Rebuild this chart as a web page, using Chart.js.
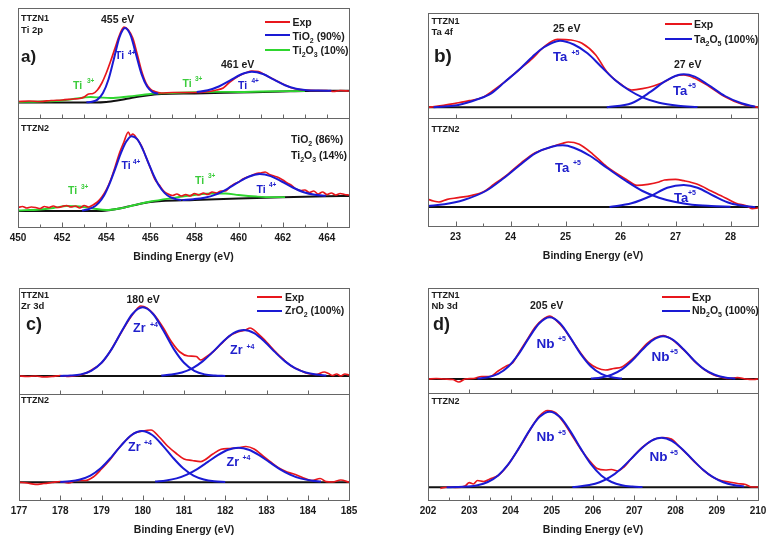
<!DOCTYPE html>
<html>
<head>
<meta charset="utf-8">
<script src="https://cdn.jsdelivr.net/npm/chart.js@4.4.1/dist/chart.umd.min.js"></script>
<style>
  body { margin: 0; background: #fff; }
  #wrap { position: relative; width: 773px; height: 543px; overflow: hidden; font-family: "Liberation Sans", Arial, sans-serif; }
  canvas { position: absolute; }
  .t { position: absolute; line-height: 1; white-space: nowrap; font-weight: bold; color: #1b1b1b; }
  .k { color: #2020cc; }
  .g { color: #3ccc3c; }
  .sb { font-size: 7px; position: relative; top: 3px; }
  .ln { position: absolute; height: 2px; }
</style>
</head>
<body>
<div id="wrap">
  <canvas id="panelA" style="left:0;top:0" width="386" height="270"></canvas>
  <canvas id="panelB" style="left:386px;top:0" width="387" height="270"></canvas>
  <canvas id="panelC" style="left:0;top:280px" width="386" height="263"></canvas>
  <canvas id="panelD" style="left:386px;top:280px" width="387" height="263"></canvas>

  <!-- a) Ti 2p -->
  <div class="t" style="left:21px;top:14px;font-size:9px">TTZN1</div>
  <div class="t" style="left:21px;top:25px;font-size:9.5px">Ti 2p</div>
  <div class="t" style="left:21px;top:48px;font-size:17px">a)</div>
  <div class="t" style="left:101px;top:13.5px;font-size:10.5px">455 eV</div>
  <div class="t" style="left:221px;top:58.5px;font-size:10.5px">461 eV</div>
  <div class="t k" style="left:115px;top:50px;font-size:10.5px">Ti</div>
  <div class="t k" style="left:128px;top:49.5px;font-size:6.5px">4+</div>
  <div class="t k" style="left:238px;top:80px;font-size:10.5px">Ti</div>
  <div class="t k" style="left:251.5px;top:77.5px;font-size:6.5px">4+</div>
  <div class="t g" style="left:73px;top:80px;font-size:10.5px">Ti</div>
  <div class="t g" style="left:87px;top:78px;font-size:6.5px">3+</div>
  <div class="t g" style="left:182.5px;top:78px;font-size:10.5px">Ti</div>
  <div class="t g" style="left:195px;top:76px;font-size:6.5px">3+</div>
  <div class="ln" style="left:265px;top:21px;width:25px;background:#e8161c"></div>
  <div class="ln" style="left:265px;top:34px;width:25px;background:#1a1ad4"></div>
  <div class="ln" style="left:265px;top:49px;width:25px;background:#2fd62f"></div>
  <div class="t" style="left:292.5px;top:17px;font-size:10.5px">Exp</div>
  <div class="t" style="left:292.5px;top:30.5px;font-size:10.5px">TiO<span class="sb">2</span> (90%)</div>
  <div class="t" style="left:292.5px;top:44.5px;font-size:10.5px">Ti<span class="sb">2</span>O<span class="sb">3</span> (10%)</div>
  <div class="t" style="left:21px;top:124px;font-size:9px">TTZN2</div>
  <div class="t" style="left:291px;top:133.5px;font-size:10.5px">TiO<span class="sb">2</span> (86%)</div>
  <div class="t" style="left:291px;top:150px;font-size:10.5px">Ti<span class="sb">2</span>O<span class="sb">3</span> (14%)</div>
  <div class="t k" style="left:121.5px;top:160px;font-size:10.5px">Ti</div>
  <div class="t k" style="left:133px;top:158.5px;font-size:6.5px">4+</div>
  <div class="t g" style="left:68px;top:185px;font-size:10.5px">Ti</div>
  <div class="t g" style="left:81px;top:184px;font-size:6.5px">3+</div>
  <div class="t g" style="left:195px;top:175px;font-size:10.5px">Ti</div>
  <div class="t g" style="left:208px;top:173px;font-size:6.5px">3+</div>
  <div class="t k" style="left:256.5px;top:183.5px;font-size:10.5px">Ti</div>
  <div class="t k" style="left:269px;top:182px;font-size:6.5px">4+</div>

  <!-- b) Ta 4f -->
  <div class="t" style="left:431.5px;top:17px;font-size:9px">TTZN1</div>
  <div class="t" style="left:431.5px;top:27px;font-size:9.5px">Ta 4f</div>
  <div class="t" style="left:434px;top:46px;font-size:19px">b)</div>
  <div class="t" style="left:553px;top:22.5px;font-size:10.5px">25 eV</div>
  <div class="t" style="left:674px;top:58.5px;font-size:10.5px">27 eV</div>
  <div class="t k" style="left:553px;top:50px;font-size:13px">Ta</div>
  <div class="t k" style="left:571.5px;top:49px;font-size:7px">+5</div>
  <div class="t k" style="left:673px;top:83.5px;font-size:13px">Ta</div>
  <div class="t k" style="left:688px;top:82px;font-size:7px">+5</div>
  <div class="ln" style="left:665px;top:22.5px;width:27px;background:#e8161c"></div>
  <div class="ln" style="left:665px;top:37.5px;width:27px;background:#1a1ad4"></div>
  <div class="t" style="left:694px;top:18.5px;font-size:10.5px">Exp</div>
  <div class="t" style="left:694px;top:33.5px;font-size:10.5px">Ta<span class="sb">2</span>O<span class="sb">5</span> (100%)</div>
  <div class="t" style="left:431.5px;top:125px;font-size:9px">TTZN2</div>
  <div class="t k" style="left:555px;top:161px;font-size:13px">Ta</div>
  <div class="t k" style="left:573px;top:158.5px;font-size:7px">+5</div>
  <div class="t k" style="left:674px;top:191px;font-size:13px">Ta</div>
  <div class="t k" style="left:688px;top:189px;font-size:7px">+5</div>

  <!-- c) Zr 3d -->
  <div class="t" style="left:21px;top:290.5px;font-size:9px">TTZN1</div>
  <div class="t" style="left:21px;top:300.5px;font-size:9.5px">Zr 3d</div>
  <div class="t" style="left:26px;top:314.5px;font-size:18px">c)</div>
  <div class="t" style="left:126.5px;top:293.5px;font-size:10.5px">180 eV</div>
  <div class="t k" style="left:133px;top:321.5px;font-size:12.5px">Zr</div>
  <div class="t k" style="left:150px;top:320.5px;font-size:7px">+4</div>
  <div class="t k" style="left:230px;top:343.5px;font-size:12.5px">Zr</div>
  <div class="t k" style="left:246.5px;top:342.5px;font-size:7px">+4</div>
  <div class="ln" style="left:257px;top:296px;width:25px;background:#e8161c"></div>
  <div class="ln" style="left:257px;top:310px;width:25px;background:#1a1ad4"></div>
  <div class="t" style="left:285px;top:291.5px;font-size:10.5px">Exp</div>
  <div class="t" style="left:285px;top:304.5px;font-size:10.5px">ZrO<span class="sb">2</span> (100%)</div>
  <div class="t" style="left:21px;top:395.5px;font-size:9px">TTZN2</div>
  <div class="t k" style="left:128px;top:441px;font-size:12.5px">Zr</div>
  <div class="t k" style="left:144px;top:439px;font-size:7px">+4</div>
  <div class="t k" style="left:226.5px;top:455.5px;font-size:12.5px">Zr</div>
  <div class="t k" style="left:242.5px;top:454px;font-size:7px">+4</div>

  <!-- d) Nb 3d -->
  <div class="t" style="left:431.5px;top:290.5px;font-size:9px">TTZN1</div>
  <div class="t" style="left:431.5px;top:300.5px;font-size:9.5px">Nb 3d</div>
  <div class="t" style="left:433px;top:314.5px;font-size:18px">d)</div>
  <div class="t" style="left:530px;top:299.5px;font-size:10.5px">205 eV</div>
  <div class="t k" style="left:536.5px;top:336.5px;font-size:13.5px">Nb</div>
  <div class="t k" style="left:558px;top:335px;font-size:7px">+5</div>
  <div class="t k" style="left:651.5px;top:350px;font-size:13.5px">Nb</div>
  <div class="t k" style="left:670px;top:347.5px;font-size:7px">+5</div>
  <div class="ln" style="left:662px;top:295.5px;width:28px;background:#e8161c"></div>
  <div class="ln" style="left:662px;top:310px;width:28px;background:#1a1ad4"></div>
  <div class="t" style="left:692px;top:291.5px;font-size:10.5px">Exp</div>
  <div class="t" style="left:692px;top:304.5px;font-size:10.5px">Nb<span class="sb">2</span>O<span class="sb">5</span> (100%)</div>
  <div class="t" style="left:431.5px;top:397px;font-size:9px">TTZN2</div>
  <div class="t k" style="left:536.5px;top:430px;font-size:13.5px">Nb</div>
  <div class="t k" style="left:558px;top:429px;font-size:7px">+5</div>
  <div class="t k" style="left:649.5px;top:450px;font-size:13.5px">Nb</div>
  <div class="t k" style="left:670px;top:449px;font-size:7px">+5</div>
</div>

<script>
// ---- Ti 2p (panel a) ----
const tiMajor = [450, 452, 454, 456, 458, 460, 462, 464];
const tiMinor = [451, 453, 455, 457, 459, 461, 463];

const tiTopExpE = [450, 450.5, 451, 451.5, 452, 452.5, 452.8, 453.0, 453.2, 453.4, 453.6, 453.8, 454.0, 454.2, 454.4, 454.6, 454.8, 455.0, 455.2, 455.4, 455.6, 455.8, 456.0, 456.2, 456.5, 457, 457.5, 458, 458.5, 459, 459.3, 459.6, 460, 460.3, 460.6, 460.9, 461.2, 461.6, 462, 462.5, 463, 463.5, 464, 464.3, 464.6, 465];
const tiTopExpI = [16.5, 17, 16.5, 17.5, 18, 19, 19.5, 21, 24, 24.5, 28, 35, 45, 57, 70, 83, 91, 88, 80, 64, 47, 35, 29, 26.5, 25, 25.5, 25.5, 25.5, 26, 28, 30, 36, 42, 45, 47, 46.5, 43, 38.5, 34, 29.5, 28, 27.5, 27.5, 26.5, 27.5, 27];
const tiTopFit1E = [453.1, 453.35, 453.6, 453.85, 454.1, 454.35, 454.6, 454.85, 455.1, 455.35, 455.6, 455.85, 456.1, 456.35];
const tiTopFit1I = [15.7, 16.3, 18.4, 24.9, 38.5, 59.5, 80.8, 90, 82.8, 63.4, 43.8, 31.4, 25.9, 24.3];
const tiTopFit2E = [458.1, 458.6, 459.1, 459.6, 460.1, 460.6, 461.1, 461.6, 462.1, 462.6, 463.1, 463.6, 464.2];
const tiTopFit2I = [25.9, 27.7, 31.5, 37.4, 43.5, 46.2, 44, 38.3, 32.8, 29.3, 27.8, 27.4, 27.3];
const tiTopTi3E = [450, 451, 452, 452.5, 453, 453.3, 453.7, 454.2, 455, 456, 457, 458, 459, 460, 461, 462, 463];
const tiTopTi3I = [16, 16.5, 17.5, 19, 20.5, 21, 20.5, 20, 21.5, 24, 25, 25.8, 26.2, 26, 26.5, 26.8, 27];
const tiTopBgE = [450, 453.5, 454, 454.5, 455, 455.5, 456, 456.5, 458, 460, 462, 463, 465];
const tiTopBgI = [15.5, 15.5, 16, 17.5, 19.5, 21.5, 23, 24, 24.5, 25.5, 26.5, 27, 27.2];

const tiBotExpE = [450.0, 450.2, 450.4, 450.6, 450.8, 451.0, 451.2, 451.4, 451.6, 451.8, 452.0, 452.2, 452.4, 452.6, 452.8, 453.0, 453.2, 453.4, 453.6, 453.8, 454.0, 454.2, 454.4, 454.6, 454.8, 455.0, 455.1, 455.2, 455.4, 455.6, 455.8, 456.0, 456.2, 456.4, 456.6, 456.8, 457.0, 457.2, 457.4, 457.6, 457.8, 458.0, 458.2, 458.4, 458.6, 458.8, 459.0, 459.2, 459.4, 459.6, 459.8, 460.0, 460.2, 460.4, 460.6, 460.8, 461.0, 461.2, 461.4, 461.6, 461.8, 462.0, 462.2, 462.4, 462.6, 462.8, 463.0, 463.2, 463.4, 463.6, 463.8, 464.0, 464.2, 464.4, 464.6, 464.8, 465.0];
const tiBotExpI = [19.5, 20.5, 19, 20, 19.5, 18.5, 20.5, 19.5, 21, 19.5, 20.5, 21.5, 20, 21, 19, 21.5, 20, 22, 25, 30, 37, 47, 60, 74, 85, 95, 91, 93, 88, 81, 70, 59, 48, 42, 36, 33, 31.5, 33, 31, 32.5, 31, 33.5, 32, 34, 32.5, 35, 34, 36, 36, 40, 43, 45, 48, 50, 51.5, 53.5, 54, 55, 52.5, 51, 49.5, 47, 44, 41.5, 38, 36.5, 37, 34.5, 36, 33, 35, 32.5, 34, 32, 33.5, 32.5, 32];
const tiBotFit1E = [452.9, 453.15, 453.4, 453.65, 453.9, 454.15, 454.4, 454.65, 454.9, 455.15, 455.4, 455.65, 455.9, 456.15, 456.4, 456.65, 456.9, 457.15, 457.4];
const tiBotFit1I = [16.5, 17.5, 19.6, 23.9, 31.4, 43.3, 57.9, 73.1, 85.2, 90.8, 87.8, 77.9, 64.7, 51.7, 41, 33.9, 29.8, 27.9, 27];
const tiBotFit2E = [457.45, 457.95, 458.45, 458.95, 459.45, 459.95, 460.45, 460.95, 461.45, 461.95, 462.45, 462.95, 463.45, 463.95];
const tiBotFit2I = [27, 27.8, 29.3, 32.4, 37.7, 44.3, 50.3, 52.9, 50.9, 45.5, 39.5, 34.8, 32.3, 31.3];
const tiBotTi3E = [450, 451, 451.6, 452.2, 452.8, 453.4, 454, 454.6, 455.2, 456, 457, 458, 458.8, 459.4, 460, 460.8, 461.5, 462.1];
const tiBotTi3I = [16.5, 17.5, 19, 21, 20.5, 18.5, 17, 18.5, 21.5, 25.5, 29, 32, 33.5, 33.5, 32, 30.5, 29.8, 29.8];
const tiBotBgE = [450, 453.8, 454.2, 454.6, 455, 455.5, 456, 456.5, 458, 460, 462, 464, 465];
const tiBotBgI = [16, 16, 17, 18.5, 20.5, 23, 25, 26, 27, 28.5, 29.8, 30.7, 31];

// ---- Ta 4f (panel b) ----
const taMajor = [23, 24, 25, 26, 27, 28];
const taMinor = [22.5, 23.5, 24.5, 25.5, 26.5, 27.5];

const taTopExpE = [22.5, 22.75, 23.0, 23.25, 23.5, 23.7, 23.9, 24.15, 24.4, 24.6, 24.85, 25.1, 25.3, 25.55, 25.75, 26.0, 26.2, 26.4, 26.6, 26.8, 27.0, 27.15, 27.35, 27.6, 27.9, 28.2, 28.5];
const taTopExpI = [10.7, 12.3, 14.7, 17.3, 20.7, 28, 36.3, 48, 59.7, 70.7, 78.7, 78, 74.7, 63, 46.3, 34, 28, 29.3, 32, 36.3, 42, 43, 39.7, 32, 21.3, 14, 10.7];
const taTopFit1E = [22.6, 23.05, 23.4, 23.65, 23.9, 24.15, 24.4, 24.6, 24.9, 25.15, 25.4, 25.65, 25.9, 26.15, 26.4, 26.7, 27.05, 27.4];
const taTopFit1I = [10.8, 13, 18.7, 24.7, 36.3, 48, 61.3, 70.5, 77.3, 73.5, 64.7, 51.3, 38, 28, 20.7, 15.3, 12.3, 11];
const taTopFit2E = [25.75, 26.2, 26.55, 26.8, 27.05, 27.15, 27.35, 27.6, 27.9, 28.2, 28.45];
const taTopFit2I = [10.7, 14.7, 26.3, 36.3, 43, 43.7, 41.3, 33, 22, 14.7, 11.3];
const taTopBgE = [22.5, 28.5];
const taTopBgI = [10.7, 10.7];

const taBotExpE = [22.5, 22.6, 22.7, 22.85, 23.05, 23.3, 23.5, 23.7, 23.95, 24.2, 24.45, 24.7, 24.95, 25.05, 25.25, 25.5, 25.75, 26.1, 26.3, 26.5, 26.7, 26.8, 27.0, 27.15, 27.4, 27.65, 27.9, 28.1, 28.3, 28.4, 28.5];
const taBotExpI = [26.7, 25, 24, 26.7, 28.3, 30.7, 34, 41.7, 51.7, 63.3, 73.3, 78.3, 82.7, 84, 81.7, 71.7, 59.3, 46.7, 40.7, 41.7, 44, 46, 46.7, 45.3, 41.7, 35, 28.3, 22.7, 20, 17.3, 18];
const taBotFit1E = [22.5, 22.8, 23.15, 23.55, 23.85, 24.15, 24.45, 24.75, 24.95, 25.15, 25.45, 25.75, 26.1, 26.4, 26.7, 27.0, 27.3, 27.65, 28.0];
const taBotFit1I = [20, 21.7, 26, 35, 46.7, 60, 72.7, 79.3, 80.7, 78.3, 70, 58.3, 45, 35, 28.3, 24, 21.3, 20, 19.3];
const taBotFit2E = [25.8, 26.2, 26.55, 26.85, 27.15, 27.4, 27.7, 28.0, 28.25, 28.45];
const taBotFit2I = [19, 22.7, 30, 38.3, 41, 38.3, 30, 22.7, 20, 19];
const taBotBgE = [22.5, 28.5];
const taBotBgI = [19, 19];

// ---- Zr 3d (panel c) ----
const zrMajor = [177, 178, 179, 180, 181, 182, 183, 184, 185];
const zrMinor = [177.5, 178.5, 179.5, 180.5, 181.5, 182.5, 183.5, 184.5];

const zrTopExpE = [177, 177.2, 177.4, 177.6, 177.8, 178, 178.2, 178.4, 178.6, 178.8, 179, 179.2, 179.4, 179.6, 179.8, 179.95, 180.1, 180.3, 180.5, 180.7, 180.9, 181.1, 181.3, 181.4, 181.5, 181.7, 181.9, 182.1, 182.3, 182.5, 182.6, 182.8, 183, 183.2, 183.4, 183.6, 183.8, 184, 184.2, 184.4, 184.5, 184.6, 184.7, 184.8, 184.9, 185];
const zrTopExpI = [18, 17.5, 18, 17, 17.5, 18.5, 17.5, 18.5, 20.5, 25, 31, 42, 56, 70, 82, 88, 86, 78, 66, 52, 42, 38, 37.5, 34, 36, 42, 50, 58, 62, 64, 66, 60, 52, 43, 35, 28, 24, 20.5, 19.5, 22, 20.5, 18.5, 20, 18, 20, 19];
const zrTopFit1E = [178.0, 178.25, 178.5, 178.75, 179.0, 179.25, 179.5, 179.75, 180.0, 180.25, 180.5, 180.75, 181.0, 181.25, 181.5, 181.75, 182.0];
const zrTopFit1I = [18.1, 18.4, 19.6, 23.2, 31.2, 45.1, 63.5, 80, 86.7, 80, 63.5, 45.1, 31.2, 23.2, 19.6, 18.4, 18.1];
const zrTopFit2E = [180.45, 180.7, 180.95, 181.2, 181.45, 181.7, 181.95, 182.2, 182.45, 182.7, 182.95, 183.2, 183.45, 183.7, 183.95, 184.2, 184.45];
const zrTopFit2I = [18.5, 19.4, 21.5, 25.6, 32.6, 42.1, 52.5, 60.8, 64, 60.8, 52.5, 42.1, 32.6, 25.6, 21.5, 19.4, 18.5];
const zrTopBgE = [177, 185];
const zrTopBgI = [18, 18];

const zrBotExpE = [177, 177.2, 177.4, 177.6, 177.8, 178, 178.2, 178.4, 178.6, 178.8, 179, 179.2, 179.4, 179.6, 179.8, 180, 180.2, 180.4, 180.6, 180.8, 181, 181.2, 181.4, 181.5, 181.7, 181.9, 182.1, 182.3, 182.5, 182.7, 182.9, 183.1, 183.3, 183.5, 183.7, 183.9, 184.1, 184.3, 184.45, 184.6, 184.8, 185];
const zrBotExpI = [17.7, 17, 15.7, 16.5, 17.5, 18.5, 17, 19.5, 19.5, 23, 31, 40, 51, 60, 67, 69, 70, 63, 54, 47, 41, 39.5, 38.3, 40, 46, 50.7, 51.5, 52, 53.5, 51, 44.5, 38, 32, 28, 25.5, 22, 19.5, 21.5, 18.3, 18, 20, 17.7];
const zrBotFit1E = [178.0, 178.23, 178.48, 178.73, 178.98, 179.23, 179.48, 179.73, 179.98, 180.23, 180.48, 180.73, 180.98, 181.23, 181.48, 181.73, 182.0];
const zrBotFit1I = [18, 18.7, 20.5, 24.4, 31.7, 42.4, 54.7, 65, 69, 65, 54.7, 42.4, 31.7, 24.4, 20.5, 18.7, 18];
const zrBotFit2E = [180.3, 180.57, 180.82, 181.07, 181.32, 181.57, 181.82, 182.07, 182.32, 182.57, 182.82, 183.07, 183.32, 183.57, 183.82, 184.07, 184.32];
const zrBotFit2I = [18.4, 19.5, 21.6, 25.4, 30.9, 37.8, 44.9, 50.3, 52.3, 50.3, 44.9, 37.8, 30.9, 25.4, 21.6, 19.5, 18.4];
const zrBotBgE = [177, 185];
const zrBotBgI = [17.7, 17.7];

// ---- Nb 3d (panel d) ----
const nbMajor = [202, 203, 204, 205, 206, 207, 208, 209, 210];
const nbMinor = [202.5, 203.5, 204.5, 205.5, 206.5, 207.5, 208.5, 209.5];

const nbTopExpE = [202, 202.2, 202.4, 202.6, 202.75, 202.9, 203.1, 203.3, 203.5, 203.7, 203.9, 204.05, 204.2, 204.4, 204.6, 204.8, 204.95, 205.1, 205.3, 205.5, 205.7, 205.9, 206.1, 206.3, 206.5, 206.7, 206.9, 207.1, 207.3, 207.5, 207.7, 207.9, 208.1, 208.3, 208.5, 208.7, 208.9, 209.1, 209.3, 209.5, 209.7, 209.9, 210];
const nbTopExpI = [14, 14.5, 14, 13.5, 11, 14, 14.5, 16.5, 16.5, 22, 27, 30, 40, 53, 66, 74, 77, 73, 64, 52, 40, 30, 25, 23, 24.5, 26, 32, 40, 49, 55, 57.5, 54, 47, 39, 30, 23.5, 18.5, 16, 14.5, 15.5, 14, 13.5, 14];
const nbTopFit1E = [203.2, 203.45, 203.7, 203.95, 204.2, 204.45, 204.7, 204.95, 205.2, 205.45, 205.7, 205.95, 206.2, 206.45, 206.7];
const nbTopFit1I = [14.5, 15.7, 19.1, 26.5, 39.1, 55.4, 69.8, 75.7, 69.8, 55.4, 39.1, 26.5, 19.1, 15.7, 14.5];
const nbTopFit2E = [205.95, 206.2, 206.45, 206.7, 206.95, 207.2, 207.45, 207.7, 207.95, 208.2, 208.45, 208.7, 208.95, 209.2, 209.45];
const nbTopFit2I = [14.4, 15.5, 18.2, 23.6, 32.5, 43.5, 52.9, 56.7, 52.9, 43.5, 32.5, 23.6, 18.2, 15.5, 14.4];
const nbTopBgE = [202, 210];
const nbTopBgI = [14, 14];

const nbBotExpE = [202.3, 202.5, 202.7, 202.9, 203.0, 203.1, 203.2, 203.35, 203.5, 203.7, 203.9, 204.1, 204.3, 204.5, 204.7, 204.9, 205.0, 205.1, 205.3, 205.5, 205.7, 205.9, 206.1, 206.3, 206.45, 206.6, 206.75, 206.9, 207.1, 207.3, 207.5, 207.7, 207.9, 208.1, 208.3, 208.5, 208.7, 208.9, 209.1, 209.3, 209.5, 209.7, 209.85, 210];
const nbBotExpI = [11.7, 13, 12.5, 14, 17.3, 16, 19.5, 18.5, 21, 24.5, 33, 45, 58, 72, 84, 89.5, 89, 87, 77, 64, 51, 40, 31.5, 30, 30.5, 29, 33, 40, 49, 56, 61, 62.5, 61, 53, 45, 36.5, 29, 23, 19.5, 18, 16.5, 15.5, 13, 13];
const nbBotFit1E = [202.45, 202.7, 202.95, 203.2, 203.45, 203.7, 203.95, 204.2, 204.45, 204.7, 204.95, 205.2, 205.45, 205.7, 205.95, 206.2, 206.45, 206.7, 206.95, 207.2];
const nbBotFit1I = [12.7, 12.9, 13.4, 14.7, 18, 24.6, 35.8, 51.6, 68.9, 82.9, 88.3, 82.9, 68.9, 51.6, 35.8, 24.6, 18, 14.7, 13.4, 12.9];
const nbBotFit2E = [205.5, 205.66, 205.91, 206.16, 206.41, 206.66, 206.91, 207.16, 207.41, 207.66, 207.91, 208.16, 208.41, 208.66, 208.91, 209.16, 209.41, 209.66];
const nbBotFit2I = [12.9, 13.5, 14.9, 17.7, 22.8, 30.6, 40.6, 51.1, 59.2, 62.3, 59.2, 51.1, 40.6, 30.6, 22.8, 17.7, 14.9, 13.5];
const nbBotBgE = [202, 210];
const nbBotBgI = [12.7, 12.7];

Chart.defaults.font.family = '"Liberation Sans", Arial, sans-serif';

const RED = '#e8161c';
const BLUE = '#1a1ad4';
const GREEN = '#2fd62f';
const BLACK = '#111111';

function pts(e, i) {
    return e.map((x, k) => ({ x: x, y: i[k] }));
}

function curve(e, i, color, axis, width) {
    return {
        data: pts(e, i),
        borderColor: color,
        borderWidth: width || 1.8,
        yAxisID: axis,
        pointRadius: 0,
        fill: false,
        cubicInterpolationMode: 'monotone'
    };
}

// frame round each sub-plot plus the inward tick marks
const framePlugin = {
    id: 'frame',
    afterDraw(chart, args, opts) {
        const ctx = chart.ctx;
        const area = chart.chartArea;
        const xs = chart.scales.x;
        ctx.save();
        ctx.strokeStyle = '#666666';
        ctx.lineWidth = 1;
        ['yTop', 'yBot'].forEach(id => {
            const s = chart.scales[id];
            ctx.strokeRect(Math.round(area.left) + 0.5, Math.round(s.top) + 0.5,
                Math.round(area.right - area.left), Math.round(s.bottom - s.top));
        });
        const tick = (scale, v, len) => {
            const px = Math.round(xs.getPixelForValue(v)) + 0.5;
            const y0 = Math.round(scale.bottom) + 0.5;
            ctx.beginPath();
            ctx.moveTo(px, y0);
            ctx.lineTo(px, y0 - len);
            ctx.stroke();
        };
        opts.topTicks.forEach(v => tick(chart.scales.yTop, v, 4));
        opts.major.forEach(v => tick(chart.scales.yBot, v, 5));
        opts.minor.forEach(v => tick(chart.scales.yBot, v, 3));
        ctx.restore();
    }
};

function makePanel(id, p) {
    const yAxis = (max) => ({
        type: 'linear',
        position: 'left',
        stack: 'xps',
        stackWeight: max,
        min: 0,
        max: max,
        grid: { display: false, drawTicks: false },
        border: { display: false },
        ticks: { display: false }
    });
    return new Chart(document.getElementById(id), {
        type: 'line',
        data: { datasets: p.series },
        plugins: [framePlugin],
        options: {
            responsive: false,
            animation: false,
            events: [],
            layout: { padding: p.pad },
            plugins: {
                legend: { display: false },
                tooltip: { enabled: false },
                frame: { topTicks: p.topTicks, major: p.major, minor: p.minor }
            },
            scales: {
                x: {
                    type: 'linear',
                    min: p.xmin,
                    max: p.xmax,
                    grid: { display: false, drawTicks: false },
                    border: { display: false },
                    afterBuildTicks: s => { s.ticks = p.major.map(v => ({ value: v })); },
                    afterFit: s => { s.height = 36; },
                    ticks: {
                        autoSkip: false,
                        maxRotation: 0,
                        padding: 5,
                        color: '#1b1b1b',
                        font: { size: 10, weight: 'bold' },
                        callback: v => String(v)
                    },
                    title: {
                        display: true,
                        text: 'Binding Energy (eV)',
                        color: '#1b1b1b',
                        font: { size: 10.5, weight: 'bold' },
                        padding: { top: 0, bottom: 0 }
                    }
                },
                // left boxes are stacked last-defined first, so the lower plot comes first here
                yBot: yAxis(p.botMax),
                yTop: yAxis(p.topMax)
            }
        }
    });
}

makePanel('panelA', {
    xmin: 450, xmax: 465, major: tiMajor, minor: tiMinor,
    topTicks: tiMajor.concat(tiMinor),
    topMax: 110, botMax: 109,
    pad: { left: 18, right: 37, top: 8, bottom: 7 },
    series: [
        curve(tiTopFit1E, tiTopFit1I, BLUE, 'yTop', 2),
        curve(tiTopFit2E, tiTopFit2I, BLUE, 'yTop', 2),
        curve(tiBotFit1E, tiBotFit1I, BLUE, 'yBot', 2),
        curve(tiBotFit2E, tiBotFit2I, BLUE, 'yBot', 2),
        curve(tiTopExpE, tiTopExpI, RED, 'yTop', 1.7),
        curve(tiBotExpE, tiBotExpI, RED, 'yBot', 1.7),
        curve(tiTopTi3E, tiTopTi3I, GREEN, 'yTop', 1.8),
        curve(tiBotTi3E, tiBotTi3I, GREEN, 'yBot', 1.8),
        curve(tiTopBgE, tiTopBgI, BLACK, 'yTop', 2),
        curve(tiBotBgE, tiBotBgI, BLACK, 'yBot', 2)
    ]
});

makePanel('panelB', {
    xmin: 22.5, xmax: 28.5, major: taMajor, minor: taMinor,
    topTicks: taMajor,
    topMax: 105, botMax: 108,
    pad: { left: 42, right: 15, top: 13, bottom: 8 },
    series: [
        curve(taTopFit1E, taTopFit1I, BLUE, 'yTop', 2),
        curve(taTopFit2E, taTopFit2I, BLUE, 'yTop', 2),
        curve(taBotFit1E, taBotFit1I, BLUE, 'yBot', 2),
        curve(taBotFit2E, taBotFit2I, BLUE, 'yBot', 2),
        curve(taTopExpE, taTopExpI, RED, 'yTop', 1.7),
        curve(taBotExpE, taBotExpI, RED, 'yBot', 1.7),
        curve(taTopBgE, taTopBgI, BLACK, 'yTop', 2),
        curve(taBotBgE, taBotBgI, BLACK, 'yBot', 2)
    ]
});

makePanel('panelC', {
    xmin: 177, xmax: 185, major: zrMajor, minor: zrMinor,
    topTicks: zrMajor,
    topMax: 106, botMax: 106,
    pad: { left: 19, right: 37, top: 8, bottom: 7 },
    series: [
        curve(zrTopFit1E, zrTopFit1I, BLUE, 'yTop', 2),
        curve(zrTopFit2E, zrTopFit2I, BLUE, 'yTop', 2),
        curve(zrBotFit1E, zrBotFit1I, BLUE, 'yBot', 2),
        curve(zrBotFit2E, zrBotFit2I, BLUE, 'yBot', 2),
        curve(zrTopExpE, zrTopExpI, RED, 'yTop', 1.7),
        curve(zrBotExpE, zrBotExpI, RED, 'yBot', 1.7),
        curve(zrTopBgE, zrTopBgI, BLACK, 'yTop', 2),
        curve(zrBotBgE, zrBotBgI, BLACK, 'yBot', 2)
    ]
});

makePanel('panelD', {
    xmin: 202, xmax: 210, major: nbMajor, minor: nbMinor,
    topTicks: nbMajor,
    topMax: 105, botMax: 107,
    pad: { left: 42, right: 15, top: 8, bottom: 7 },
    series: [
        curve(nbTopFit1E, nbTopFit1I, BLUE, 'yTop', 2),
        curve(nbTopFit2E, nbTopFit2I, BLUE, 'yTop', 2),
        curve(nbBotFit1E, nbBotFit1I, BLUE, 'yBot', 2),
        curve(nbBotFit2E, nbBotFit2I, BLUE, 'yBot', 2),
        curve(nbTopExpE, nbTopExpI, RED, 'yTop', 1.7),
        curve(nbBotExpE, nbBotExpI, RED, 'yBot', 1.7),
        curve(nbTopBgE, nbTopBgI, BLACK, 'yTop', 2),
        curve(nbBotBgE, nbBotBgI, BLACK, 'yBot', 2)
    ]
});
</script>
</body>
</html>
